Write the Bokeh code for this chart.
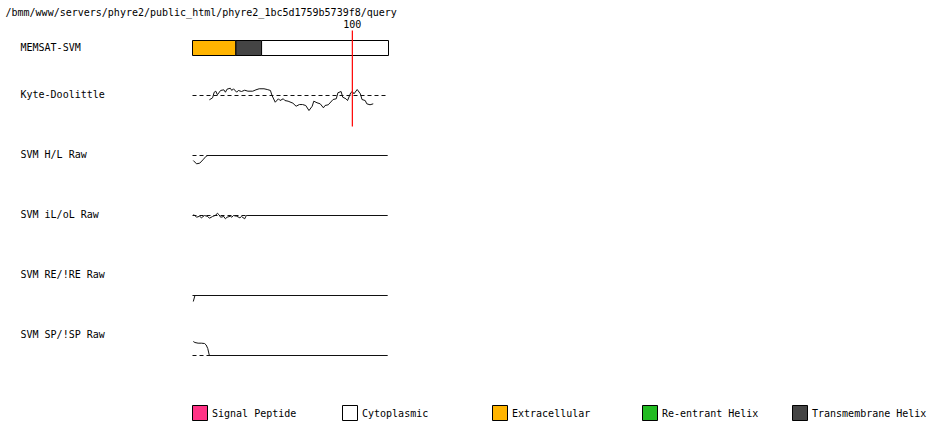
from bokeh.plotting import figure
from bokeh.models import Range1d, ColumnDataSource
from bokeh.core.properties import value
from bokeh.embed import file_html
from bokeh.resources import INLINE

# ---------------- data ----------------
query_path = "/bmm/www/servers/phyre2/public_html/phyre2_1bc5d1759b5739f8/query"
seq_len = 122
marker_pos = 100

track_labels = ["MEMSAT-SVM", "Kyte-Doolittle", "SVM H/L Raw", "SVM iL/oL Raw",
                "SVM RE/!RE Raw", "SVM SP/!SP Raw"]

topo_names = ["Extracellular", "Transmembrane Helix", "Cytoplasmic"]
topo_start = [1, 28, 44]
topo_end = [27, 43, 122]

kd_res = [11, 13, 14, 15, 16, 18, 20, 21, 22, 24, 25, 26, 28, 29, 31, 33, 35, 38, 40, 42,
          45, 47, 49, 50, 52, 54, 55, 57, 58, 60, 63, 65, 67, 69, 71, 73, 75, 76, 78, 80,
          82, 83, 85, 88, 90, 91, 93, 94, 96, 97, 99, 100, 101, 103, 105, 106, 108, 109, 111, 113]
kd_val = [-0.54, -0.29, 0.41, 0.54, 0.09, 0.63, 0.71, 0.41, 0.79, 0.91, 0.63, 0.84, 0.41, 0.63,
          0.50, 0.66, 0.54, 0.54, 0.71, 0.84, 0.84, 0.75, 0.63, 0.00, -0.84, -0.41, -0.63, -0.41,
          -0.63, -0.71, -0.96, -1.34, -1.13, -1.13, -1.25, -1.88, -1.34, -0.71, -0.91, -1.04,
          -1.54, -1.25, -1.16, -0.50, -0.41, 0.34, 0.50, -0.21, -0.41, -0.63, 0.34, 0.50, 0.21,
          0.75, 0.21, -0.50, -0.63, -1.04, -1.16, -1.04]

hl_res = [1, 3, 5, 7, 9, 10, 122]
hl_val = [-1.25, -2.08, -1.92, -1.08, -0.18, 0.0, 0.0]

il_res = [1, 2, 3, 5, 6, 8, 10, 11, 13, 15, 16, 17, 18, 20, 21, 22, 24, 25, 26, 28, 30, 31,
          33, 34, 35, 122]
il_val = [0.18, 0.0, -0.43, -0.18, -0.58, 0.0, -0.25, -0.68, -0.25, 0.08, 0.58, 0.18, -0.43,
          -0.25, -0.83, -0.43, -0.18, -0.43, 0.0, -0.18, -0.58, -0.25, -0.83, 0.0, 0.0, 0.0]

re_res = [1, 2, 122]
re_val = [-1.5, 0.0, 0.0]

sp_res = [1, 2, 4, 6, 8, 9, 10, 11, 122]
sp_val = [3.5, 3.25, 3.08, 3.08, 3.0, 2.63, 1.75, 0.0, 0.0]

legend_names = ["Signal Peptide", "Cytoplasmic", "Extracellular", "Re-entrant Helix",
                "Transmembrane Helix"]
legend_colors = ["#ff3385", "#ffffff", "#ffb400", "#22bb22", "#444444"]
color_of = dict(zip(legend_names, legend_colors))

# ---------------- layout ----------------
W, H = 948, 433
PAGE0 = 0
TRACK_LEFT, TRACK_W = 192, 196
s = TRACK_W / seq_len
x0 = 0.5 - (TRACK_LEFT - PAGE0) / s

FONT = value("DejaVu Sans Mono")
FS = "10px"
INK = "#111111"

p = figure(width=W, height=H, output_backend="svg", toolbar_location=None,
           x_range=Range1d(x0, x0 + W / s), y_range=Range1d(PAGE0 + H, PAGE0),
           min_border=0, tools="")
p.xaxis.visible = False
p.yaxis.visible = False
p.grid.visible = False
p.outline_line_color = None
p.background_fill_color = "white"
p.border_fill_color = "white"
p.extra_x_ranges = {"px": Range1d(PAGE0, PAGE0 + W)}

# header
p.text(x=[5], y=[11.5], text=[query_path], x_range_name="px",
       text_font=FONT, text_font_size=FS, text_baseline="middle", text_align="left",
       text_color="black")

# track labels
label_y = [47, 94, 154, 214, 274, 334]
p.text(x=[20] * len(track_labels), y=label_y, text=track_labels, x_range_name="px",
       text_font=FONT, text_font_size=FS, text_baseline="middle", text_align="left",
       text_color="black")

# MEMSAT-SVM topology bar
topo_src = ColumnDataSource(dict(
    left=[a - 0.5 for a in topo_start], right=[b + 0.5 for b in topo_end],
    color=[color_of[n] for n in topo_names]))
p.quad(left="left", right="right", top=40, bottom=55, fill_color="color",
       line_color="black", line_width=1, source=topo_src)

# profile tracks: (res, val, baseline page-y, px per unit)
tracks = {
    "kd": (kd_res, kd_val, 95, 8),
    "hl": (hl_res, hl_val, 155, 4),
    "il": (il_res, il_val, 215, 4),
    "re": (re_res, re_val, 295, 4),
    "sp": (sp_res, sp_val, 355, 4),
}
for name, (res, val, base, k) in tracks.items():
    p.extra_y_ranges[name] = Range1d((base - PAGE0 - H) / k, (base - PAGE0) / k)
    p.segment(x0=[0.5], x1=[seq_len + 0.5], y0=[0], y1=[0], y_range_name=name,
              line_color=INK, line_width=1, line_dash="4 3")
    p.line(res, val, y_range_name=name, line_color=INK, line_width=1)

# position marker
p.segment(x0=[marker_pos], x1=[marker_pos], y0=[30], y1=[126], line_color="red", line_width=1.2)
p.text(x=[marker_pos], y=[23], text=[str(marker_pos)], text_font=FONT, text_font_size=FS,
       text_baseline="middle", text_align="center", text_color="black")

# legend
leg_x = [192 + 150 * i for i in range(len(legend_names))]
p.quad(left=leg_x, right=[x + 15 for x in leg_x],
       top=[405] * len(leg_x), bottom=[420] * len(leg_x), x_range_name="px",
       fill_color=legend_colors, line_color="black", line_width=1)
p.text(x=[x + 19.5 for x in leg_x], y=[413] * len(leg_x), text=legend_names, x_range_name="px",
       text_font=FONT, text_font_size=FS, text_baseline="middle", text_align="left",
       text_color="black")

open("out.html", "w").write(file_html(p, INLINE))
